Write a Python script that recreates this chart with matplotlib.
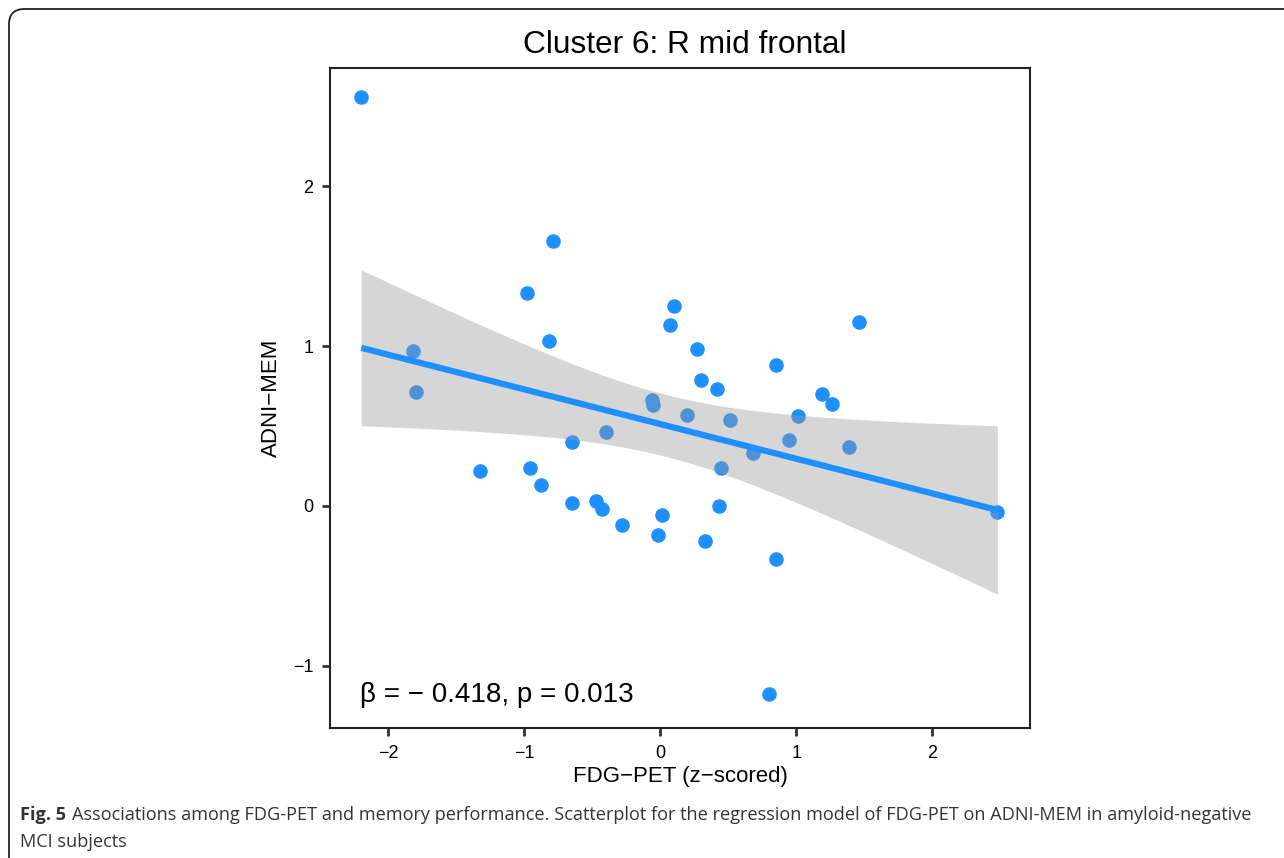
import matplotlib.pyplot as plt
import numpy as np
from matplotlib.patches import FancyBboxPatch

# FDG-PET (z-scored) vs ADNI-MEM
fdg_pet = [-2.20, -0.79, -0.98, -0.82, -1.82, -1.80, -1.33, -0.96, -0.88, -0.65,
           -0.65, -0.47, -0.43, -0.40, -0.28, -0.06, -0.05, -0.02, 0.01, 0.10,
           0.07, 0.20, 0.27, 0.30, 0.33, 0.42, 0.45, 0.43, 0.51, 0.68,
           0.80, 0.85, 0.85, 0.95, 1.01, 1.19, 1.26, 1.39, 1.46, 2.48]
adni_mem = [2.56, 1.66, 1.33, 1.03, 0.97, 0.71, 0.22, 0.24, 0.13, 0.40,
            0.02, 0.03, -0.02, 0.46, -0.12, 0.66, 0.63, -0.18, -0.06, 1.25,
            1.13, 0.57, 0.98, 0.79, -0.22, 0.73, 0.24, 0.00, 0.54, 0.33,
            -1.18, 0.88, -0.33, 0.41, 0.56, 0.70, 0.64, 0.37, 1.15, -0.04]

title = "Cluster 6: R mid frontal"
x_label = "FDG\u2212PET (z\u2212scored)"
y_label = "ADNI\u2212MEM"
stat_text = "\u03b2 = \u2212 0.418, p = 0.013"
x_ticks = [-2, -1, 0, 1, 2]
y_ticks = [-1, 0, 1, 2]
caption_head = "Fig. 5"
caption_line1 = ("Associations among FDG-PET and memory performance. Scatterplot for the "
                 "regression model of FDG-PET on ADNI-MEM in amyloid-negative")
caption_line2 = "MCI subjects"

blue = "#1E90FF"
cap_font = ["Open Sans", "DejaVu Sans"]

plt.rcParams["font.family"] = ["Liberation Sans", "DejaVu Sans"]

fig = plt.figure(figsize=(12.84, 8.58), dpi=100)

# rounded frame around the whole figure panel
frame = FancyBboxPatch((9 / 1284, -0.05), 1.1, 1.05 - 9 / 858,
                       boxstyle="round,pad=0,rounding_size=0.012",
                       transform=fig.transFigure, fill=False,
                       edgecolor="#222222", linewidth=1.3, mutation_aspect=1284 / 858)
fig.patches.append(frame)

ax = fig.add_axes([330 / 1284, 1 - 728 / 858, 700 / 1284, 660 / 858])

x = np.array(fdg_pet)
y = np.array(adni_mem)

ax.scatter(x, y, s=110, color=blue, linewidths=0, zorder=2)

# linear fit with 95% confidence band (t for df = n - 2)
n = len(x)
slope, intercept = np.polyfit(x, y, 1)
xs = np.linspace(x.min(), x.max(), 200)
ys = slope * xs + intercept
resid = y - (slope * x + intercept)
s_err = np.sqrt(np.sum(resid ** 2) / (n - 2))
se = s_err * np.sqrt(1 / n + (xs - x.mean()) ** 2 / np.sum((x - x.mean()) ** 2))
t_val = 2.024
ax.fill_between(xs, ys - t_val * se, ys + t_val * se, color="#999999",
                alpha=0.4, linewidth=0, zorder=3)
ax.plot(xs, ys, color=blue, linewidth=4.5, zorder=4, solid_capstyle="butt")

ax.set_xlim(-2.43, 2.72)
ax.set_ylim(-1.39, 2.74)
ax.set_xticks(x_ticks)
ax.set_yticks(y_ticks)
ax.tick_params(direction="out", length=6, width=2, color="#333333",
               labelsize=13, labelcolor="black", pad=6)
for sp in ax.spines.values():
    sp.set_linewidth(1.5)
    sp.set_color("#222222")

ax.set_title(title, fontsize=22.8, pad=11, x=0.507)
ax.set_xlabel(x_label, fontsize=16, labelpad=3)
ax.set_ylabel(y_label, fontsize=16, labelpad=8)

ax.text(0.043, 0.05, stat_text, transform=ax.transAxes, fontsize=20,
        ha="left", va="center")

# caption: bold head, then the rest right after it
y1 = 1 - 815 / 858
head = fig.text(20 / 1284, y1, caption_head, fontsize=13.1, color="#333333",
                family=cap_font, weight="bold", ha="left", va="center")
fig.canvas.draw()
bb = head.get_window_extent(fig.canvas.get_renderer())
fig.text((bb.x1 + 6) / 1284, y1, caption_line1, fontsize=13.1, color="#333333",
         family=cap_font, ha="left", va="center")
fig.text(20 / 1284, 1 - 842 / 858, caption_line2, fontsize=13.1, color="#333333",
         family=cap_font, ha="left", va="center")

fig.savefig("out.png", dpi=100)
